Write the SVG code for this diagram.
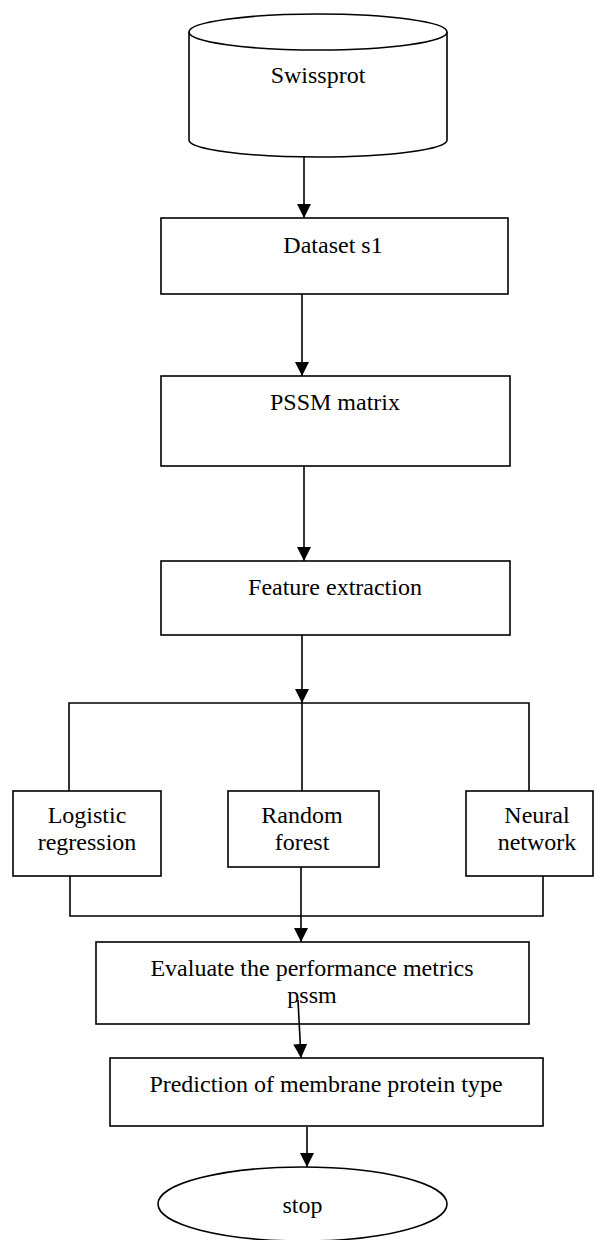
<svg xmlns="http://www.w3.org/2000/svg" width="595" height="1240" viewBox="0 0 595 1240">
<defs>
<marker id="ah" markerUnits="userSpaceOnUse" markerWidth="16" markerHeight="16" refX="14" refY="7" orient="auto">
<path d="M0,0 L14,7 L0,14 Z" fill="#000"/>
</marker>
<style>
.box{fill:#fff;stroke:#000;stroke-width:1.6}
.ln{fill:none;stroke:#000;stroke-width:1.6}
.t{font-family:"Liberation Serif","Times New Roman",serif;font-size:24px;fill:#000;text-anchor:middle}
</style>
</defs>
<rect width="595" height="1240" fill="#fff"/>
<g id="swissprot">
<path class="box" d="M189,32 L189,140 A129,17 0 0 0 447,140 L447,32"/>
<ellipse class="box" cx="318" cy="32" rx="129" ry="18"/>
<text class="t" x="318" y="83">Swissprot</text>
</g>
<g id="dataset">
<rect class="box" x="161" y="218" width="347" height="76"/>
<text class="t" x="333" y="253">Dataset s1</text>
</g>
<g id="pssm">
<rect class="box" x="161" y="376" width="349" height="90"/>
<text class="t" x="335" y="410">PSSM matrix</text>
</g>
<g id="feature">
<rect class="box" x="161" y="561" width="349" height="74"/>
<text class="t" x="335" y="595">Feature extraction</text>
</g>
<g id="logistic">
<rect class="box" x="13" y="791" width="148" height="85"/>
<text class="t" x="87" y="823">Logistic</text>
<text class="t" x="87" y="850">regression</text>
</g>
<g id="random">
<rect class="box" x="228" y="791" width="151" height="76"/>
<text class="t" x="302" y="823">Random</text>
<text class="t" x="302" y="850">forest</text>
</g>
<g id="neural">
<rect class="box" x="466" y="791" width="127" height="85"/>
<text class="t" x="537" y="823">Neural</text>
<text class="t" x="537" y="850">network</text>
</g>
<g id="evaluate">
<rect class="box" x="96" y="942" width="433" height="82"/>
<text class="t" x="312" y="976">Evaluate the performance metrics</text>
<text class="t" x="312" y="1003">pssm</text>
</g>
<g id="prediction">
<rect class="box" x="110" y="1058" width="433" height="68"/>
<text class="t" x="326" y="1092">Prediction of membrane protein type</text>
</g>
<g id="stop">
<ellipse class="box" cx="302.5" cy="1204" rx="144.5" ry="37"/>
<text class="t" x="302.5" y="1213">stop</text>
</g>
<g id="connectors">
<line class="ln" x1="304" y1="157" x2="304" y2="218" marker-end="url(#ah)"/>
<line class="ln" x1="302" y1="294" x2="302" y2="376" marker-end="url(#ah)"/>
<line class="ln" x1="304" y1="466" x2="304" y2="561" marker-end="url(#ah)"/>
<line class="ln" x1="302" y1="635" x2="302" y2="703" marker-end="url(#ah)"/>
<polyline class="ln" points="69,791 69,703 529,703 529,791"/>
<line class="ln" x1="302" y1="703" x2="302" y2="791"/>
<polyline class="ln" points="70,876 70,916 543,916 543,876"/>
<line class="ln" x1="301" y1="867" x2="301" y2="942" marker-end="url(#ah)"/>
<line class="ln" x1="298" y1="1000" x2="301" y2="1058" marker-end="url(#ah)"/>
<line class="ln" x1="307" y1="1127" x2="307" y2="1167" marker-end="url(#ah)"/>
</g>
</svg>
